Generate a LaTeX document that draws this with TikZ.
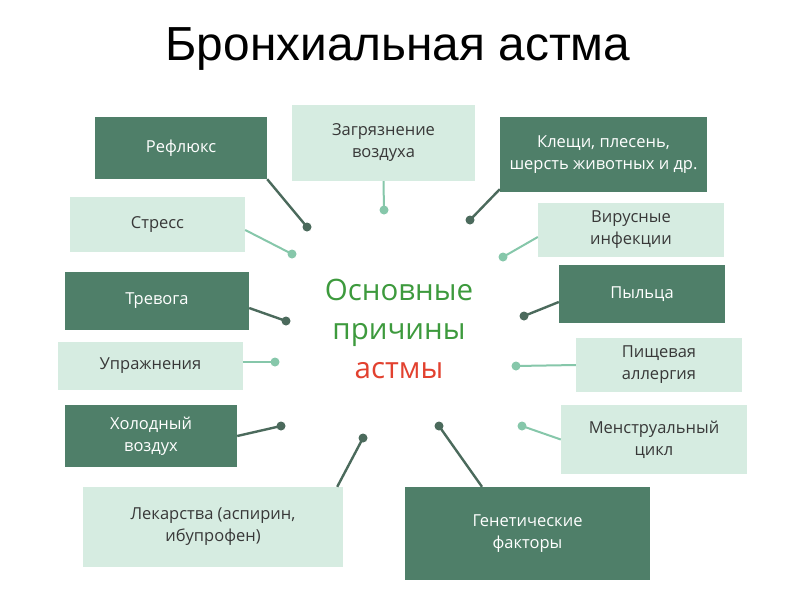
\documentclass[tikz,border=0pt]{standalone}
\usepackage{fontspec}
\setmainfont{Open Sans}
\newfontfamily\titlefont{Liberation Sans}
\usepackage{tikz}
\definecolor{boxdark}{HTML}{4F7F69}
\definecolor{boxlight}{HTML}{D6ECE1}
\definecolor{linedark}{HTML}{4B6A5C}
\definecolor{linelight}{HTML}{86C7AA}
\definecolor{txtgreen}{HTML}{3D9A3D}
\definecolor{txtred}{HTML}{E2412F}

\begin{document}
\begin{tikzpicture}[x=1pt, y=-1pt,
  darkbox/.style={fill=boxdark, text=white, inner sep=0pt, align=center,
    font=\fontsize{16.5}{22}\selectfont},
  lightbox/.style={fill=boxlight, text=black!78, inner sep=0pt, align=center,
    font=\fontsize{16.5}{22}\selectfont},
  darkline/.style={draw=linedark, line width=2.4pt},
  lightline/.style={draw=linelight, line width=2pt},
  darkdot/.style={fill=linedark},
  lightdot/.style={fill=linelight}]
  \useasboundingbox [fill=white] (0,0) rectangle (800,600);

  % title
  \node (title) at (398,49) {\titlefont\fontsize{47.8}{52}\selectfont Бронхиальная астма};

  % centre
  \node [align=center, font=\fontsize{29.5}{39}\selectfont] (centre) at (399,329)
    {\textcolor{txtgreen}{Основные}\\ \textcolor{txtgreen}{причины}\\ \textcolor{txtred}{астмы}};

  % causes
  \node [darkbox, minimum width=172, minimum height=62] (refl) at (181,148) {Рефлюкс};
  \node [lightbox, minimum width=183, minimum height=76] (zagr) at (383.5,143) {Загрязнение\\воздуха};
  \node [darkbox, minimum width=207, minimum height=75] (klesh) at (603.5,154.5) {Клещи, плесень,\\шерсть животных и др.};
  \node [lightbox, minimum width=175, minimum height=55] (stress) at (157.5,224.5) {Стресс};
  \node [lightbox, minimum width=186, minimum height=54] (virus) at (631,230) {Вирусные\\инфекции};
  \node [darkbox, minimum width=184, minimum height=58] (trev) at (157,301) {Тревога};
  \node [darkbox, minimum width=166, minimum height=58] (pyl) at (642,294) {Пыльца};
  \node [lightbox, minimum width=185, minimum height=48] (upr) at (150.5,366) {Упражнения};
  \node [lightbox, minimum width=166, minimum height=54] (pish) at (659,365) {Пищевая\\аллергия};
  \node [darkbox, minimum width=172, minimum height=62] (hol) at (151,436) {Холодный\\воздух};
  \node [lightbox, minimum width=186, minimum height=69] (menstr) at (654,439.5) {Менструальный\\цикл};
  \node [lightbox, minimum width=260, minimum height=80] (lek) at (213,527) {Лекарства (аспирин,\\ибупрофен)};
  \node [darkbox, minimum width=245, minimum height=93] (gen) at (527.5,533.5) {Генетические\\факторы};

  % dots
  \coordinate (d1) at (307,227);
  \coordinate (d2) at (384,210);
  \coordinate (d3) at (470,220);
  \coordinate (d4) at (292,254);
  \coordinate (d5) at (503,257);
  \coordinate (d6) at (286,321);
  \coordinate (d7) at (524,316);
  \coordinate (d8) at (275,362);
  \coordinate (d9) at (516,366);
  \coordinate (d10) at (281,426);
  \coordinate (d11) at (522,426);
  \coordinate (d12) at (363,438);
  \coordinate (d13) at (439,426);

  \draw [darkline] (refl.south east) -- (d1);
  \draw [lightline] (zagr.south) -- (d2);
  \draw [darkline] ([yshift=3pt]klesh.south west) -- (d3);
  \draw [lightline] ([yshift=-5.5pt]stress.east) -- (d4);
  \draw [lightline] ([yshift=-7pt]virus.west) -- (d5);
  \draw [darkline] ([yshift=-7pt]trev.east) -- (d6);
  \draw [darkline] ([yshift=-8pt]pyl.west) -- (d7);
  \draw [lightline] ([yshift=4pt]upr.east) -- (d8);
  \draw [lightline] (pish.west) -- (d9);
  \draw [darkline] (hol.east) -- (d10);
  \draw [lightline] (menstr.west) -- (d11);
  \draw [darkline] ([xshift=-6pt]lek.north east) -- (d12);
  \draw [darkline] ([xshift=-45.5pt]gen.north) -- (d13);

  \foreach \d in {d1,d3,d6,d7,d10,d12,d13}
    \fill [darkdot] (\d) circle (4.5);
  \foreach \d in {d2,d4,d5,d8,d9,d11}
    \fill [lightdot] (\d) circle (4.5);
\end{tikzpicture}
\end{document}
